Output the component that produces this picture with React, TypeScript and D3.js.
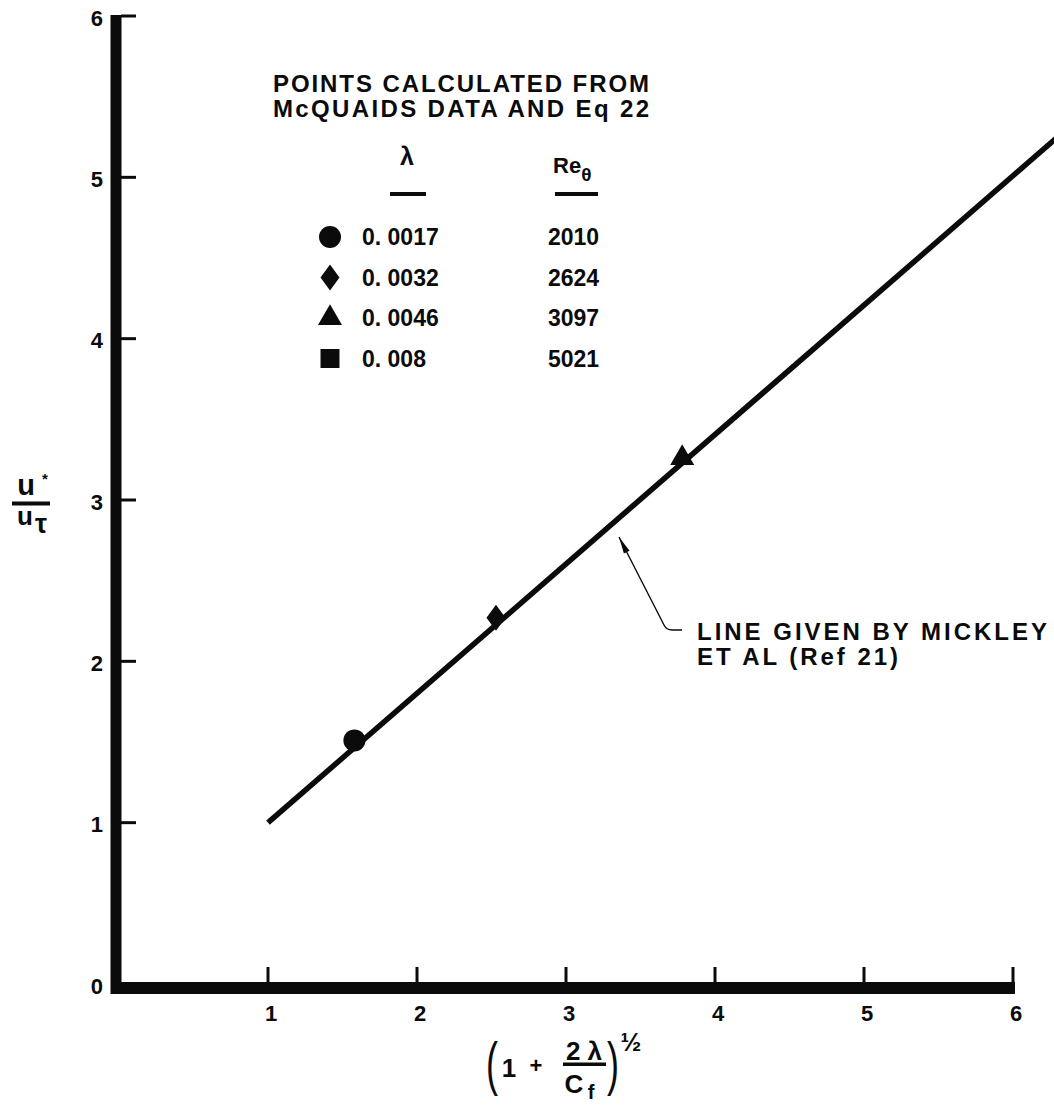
import React from "react";
import * as d3 from "d3";

// Axis ticks
const xTickValues = [1, 2, 3, 4, 5, 6];
const yTickValues = [0, 1, 2, 3, 4, 5, 6];

// Line given by Mickley et al (Ref 21): end points
const mickleyX = [1, 6.3];
const mickleyY = [1, 5.25];

// Points calculated from McQuaid's data and Eq 22
const pointX = [1.58, 2.53, 3.78];
const pointY = [1.51, 2.27, 3.26];
const pointSymbol = ["circle", "diamond", "triangle"];

// Legend table
const legendSymbol = ["circle", "diamond", "triangle", "square"];
const legendLambda = ["0. 0017", "0. 0032", "0. 0046", "0. 008"];
const legendRe = ["2010", "2624", "3097", "5021"];
const legendTitle = ["POINTS CALCULATED FROM", "McQUAIDS DATA AND Eq 22"];
const noteLines = ["LINE GIVEN BY MICKLEY", "ET AL (Ref 21)"];

const W = 1054;
const H = 1110;
const INK = "#0b0b0b";
const FONT = "'Liberation Sans', Arial, sans-serif";

const x = d3.scaleLinear().domain([0, 6]).range([119, 1013]);
const y = d3.scaleLinear().domain([0, 6]).range([984, 16]);

const diamondShape: [number, number][] = [
  [0, -13],
  [9.5, 0],
  [0, 13],
  [-9.5, 0],
];

function markerPath(kind: string): string {
  if (kind === "circle") return d3.symbol(d3.symbolCircle, Math.PI * 11 * 11)() as string;
  if (kind === "triangle") return d3.symbol(d3.symbolTriangle, 250)() as string;
  if (kind === "square") return d3.symbol(d3.symbolSquare, 360)() as string;
  return d3.line().curve(d3.curveLinearClosed)(diamondShape) as string;
}

export default function App() {
  const linePath = d3
    .line<number>()
    .x((d) => x(d))
    .y((_, i) => y(mickleyY[i]))(mickleyX) as string;

  // leader from the note to the line
  const tip: [number, number] = [619, 537];
  const bend: [number, number] = [664, 625];
  const dx = bend[0] - tip[0];
  const dy = bend[1] - tip[1];
  const len = Math.hypot(dx, dy);
  const ux = dx / len;
  const uy = dy / len;
  const headLen = 17;
  const headW = 3.2;
  const hb: [number, number] = [tip[0] + ux * headLen, tip[1] + uy * headLen];
  const arrowHead = `M${tip[0]},${tip[1]}L${hb[0] - uy * headW},${hb[1] + ux * headW}L${hb[0] + uy * headW},${hb[1] - ux * headW}Z`;

  const rowBase = 245;
  const rowStep = 40.5;

  return (
    <svg
      width={W}
      height={H}
      viewBox={`0 0 ${W} ${H}`}
      style={{ position: "absolute", left: 0, top: 0, display: "block", background: "#fff" }}
      fontFamily={FONT}
      fontWeight="bold"
      fill={INK}
    >
      <rect x={0} y={0} width={W} height={H} fill="#fff" />

      {/* axes */}
      <line x1={116} x2={116} y1={y(6) - 1} y2={994} stroke={INK} strokeWidth={11} />
      <line x1={111} x2={x(6) + 2} y1={988} y2={988} stroke={INK} strokeWidth={12} />
      {yTickValues
        .filter((v) => v > 0)
        .map((v) => (
          <line key={"yt" + v} x1={121} x2={136} y1={y(v)} y2={y(v)} stroke={INK} strokeWidth={3} />
        ))}
      {xTickValues.map((v) => (
        <line key={"xt" + v} x1={x(v)} x2={x(v)} y1={983} y2={967} stroke={INK} strokeWidth={3} />
      ))}
      {yTickValues.map((v) => (
        <text key={"yl" + v} x={103} y={y(v) + 4} fontSize={22} textAnchor="end" dominantBaseline="middle">
          {v}
        </text>
      ))}
      {xTickValues.map((v) => (
        <text key={"xl" + v} x={x(v) + 3} y={1021} fontSize={22} textAnchor="middle">
          {v}
        </text>
      ))}

      {/* correlation line */}
      <path d={linePath} fill="none" stroke={INK} strokeWidth={5.5} />

      {/* data points */}
      {pointX.map((px, i) => (
        <path key={"pt" + i} d={markerPath(pointSymbol[i])} transform={`translate(${x(px)},${y(pointY[i])})`} fill={INK} />
      ))}

      {/* legend */}
      {legendTitle.map((t, i) => (
        <text key={"lt" + i} x={273} y={92 + i * 25} fontSize={24} textLength={376} lengthAdjust="spacing">
          {t}
        </text>
      ))}
      <text x={407} y={165} fontSize={25} textAnchor="middle">λ</text>
      <rect x={390} y={192} width={36} height={4} fill={INK} />
      <text x={553} y={173} fontSize={22}>
        Re<tspan fontSize={19} dy={8}>θ</tspan>
      </text>
      <rect x={555} y={192} width={43} height={4} fill={INK} />
      {legendSymbol.map((s, i) => (
        <g key={"lg" + i}>
          <path d={markerPath(s)} transform={`translate(${330},${rowBase + i * rowStep - 8})`} fill={INK} />
          <text x={362} y={rowBase + i * rowStep} fontSize={23}>
            {legendLambda[i]}
          </text>
          <text x={548} y={rowBase + i * rowStep} fontSize={23}>
            {legendRe[i]}
          </text>
        </g>
      ))}

      {/* annotation */}
      <path d={arrowHead} fill={INK} />
      <path
        d={`M${tip[0]},${tip[1]}L${bend[0]},${bend[1]}Q${bend[0] + 2.5},${bend[1] + 5} ${bend[0] + 8},${bend[1] + 5}L682,${bend[1] + 5}`}
        fill="none"
        stroke={INK}
        strokeWidth={1.4}
      />
      <text x={697} y={640} fontSize={24} textLength={350} lengthAdjust="spacing">
        {noteLines[0]}
      </text>
      <text x={697} y={665} fontSize={24} textLength={201} lengthAdjust="spacing">
        {noteLines[1]}
      </text>

      {/* y axis title: u star over u tau */}
      <rect x={12} y={501.5} width={38} height={4} fill={INK} />
      <text textAnchor="middle">
        <tspan x={26} y={495} fontSize={29}>u</tspan>
        <tspan x={45} y={484} fontSize={15}>*</tspan>
        <tspan x={25} y={525} fontSize={26}>u</tspan>
        <tspan x={41} y={533} fontSize={27}>τ</tspan>
      </text>

      {/* x axis title: (1 + 2 lambda / Cf) to the one-half */}
      <text transform="translate(486,1084) scale(0.9,1.5)" fontSize={40} fontWeight="normal">(</text>
      <text transform="translate(607,1084) scale(0.9,1.5)" fontSize={40} fontWeight="normal">)</text>
      <rect x={563} y={1062.5} width={43} height={3.5} fill={INK} />
      <text fontSize={26} textAnchor="middle">
        <tspan x={509} y={1077}>1</tspan>
        <tspan x={536} y={1073} fontSize={22}>+</tspan>
        <tspan x={584} y={1060}>2 λ</tspan>
        <tspan x={574} y={1093}>C</tspan>
        <tspan x={591} y={1099} fontSize={20}>f</tspan>
        <tspan x={631} y={1051} fontSize={25}>½</tspan>
      </text>
    </svg>
  );
}
